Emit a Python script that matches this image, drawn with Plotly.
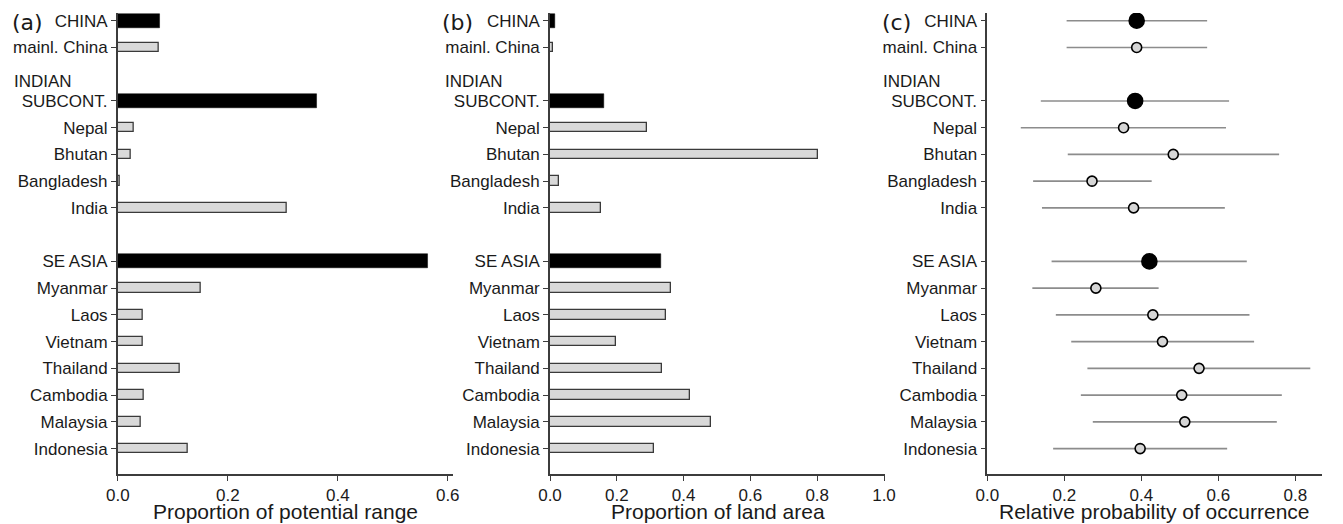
import plotly.graph_objects as go

# Regions, grouped; each group starts with its aggregate row
groups = [
    ("CHINA", ["mainl. China"]),
    ("SUBCONT.", ["Nepal", "Bhutan", "Bangladesh", "India"]),
    ("SE ASIA", ["Myanmar", "Laos", "Vietnam", "Thailand", "Cambodia", "Malaysia", "Indonesia"]),
]

# (a) proportion of potential range
range_prop = [0.077, 0.075, 0.362, 0.029, 0.023, 0.003, 0.307,
              0.563, 0.151, 0.046, 0.045, 0.112, 0.048, 0.042, 0.127]
# (b) proportion of land area
land_prop = [0.015, 0.008, 0.162, 0.291, 0.803, 0.026, 0.153,
             0.332, 0.362, 0.346, 0.197, 0.334, 0.418, 0.481, 0.312]
# (c) relative probability of occurrence with interval
occ_mean = [0.388, 0.388, 0.384, 0.354, 0.483, 0.272, 0.380,
            0.421, 0.282, 0.430, 0.455, 0.550, 0.505, 0.513, 0.397]
occ_low = [0.206, 0.206, 0.139, 0.087, 0.209, 0.119, 0.142,
           0.167, 0.117, 0.178, 0.218, 0.260, 0.243, 0.274, 0.171]
occ_high = [0.571, 0.571, 0.628, 0.620, 0.758, 0.427, 0.617,
            0.674, 0.445, 0.681, 0.693, 0.839, 0.765, 0.752, 0.623]

x_titles = ["Proportion of potential range", "Proportion of land area",
            "Relative probability of occurrence"]
panel_tags = ["(a)", "(b)", "(c)"]

# Row layout: one blank row between groups
labels, rows, agg = [], [], []
r = 0
for gi, (head, members) in enumerate(groups):
    if gi > 0:
        r += 1
    labels.append(head); rows.append(r); agg.append(True); r += 1
    for m in members:
        labels.append(m); rows.append(r); agg.append(False); r += 1

W, H = 1343, 524
FONT = "Liberation Sans, Arial, sans-serif"
INK = "#1a1a1a"
AX = "#3c3c3c"

# plot areas in pixels (left, right) and shared top/bottom
px_x = [(117.8, 452.7), (550.0, 885.0), (987.3, 1321.7)]
px_top, px_bot = 13.0, 474.0
xranges = [[0, 0.609], [0, 1.003], [0, 0.8686]]
yrange = [16.95, -0.288]

fig = go.Figure()

def pick(vals, flag):
    return [v for v, a in zip(vals, agg) if a == flag]

for k, vals in enumerate([range_prop, land_prop]):
    xa = "x" if k == 0 else f"x{k+1}"
    ya = "y" if k == 0 else f"y{k+1}"
    fig.add_trace(go.Bar(
        x=pick(vals, False), y=pick(rows, False), orientation="h",
        width=0.36, marker=dict(color="#d9d9d9", line=dict(color="#3a3a3a", width=1.3)),
        xaxis=xa, yaxis=ya, showlegend=False))
    fig.add_trace(go.Bar(
        x=pick(vals, True), y=pick(rows, True), orientation="h",
        width=0.52, marker=dict(color="#000000", line=dict(color="#000000", width=0.5)),
        xaxis=xa, yaxis=ya, showlegend=False))

for flag in (False, True):
    m = pick(occ_mean, flag)
    lo = pick(occ_low, flag)
    hi = pick(occ_high, flag)
    fig.add_trace(go.Scatter(
        x=m, y=pick(rows, flag), mode="markers",
        error_x=dict(type="data", symmetric=False,
                     array=[h - v for h, v in zip(hi, m)],
                     arrayminus=[v - l for v, l in zip(m, lo)],
                     color="#8c8c8c", thickness=1.6, width=0),
        marker=dict(size=15 if flag else 10,
                    color="#000000" if flag else "#d6d6d6",
                    line=dict(color="#000000", width=1.6)),
        xaxis="x3", yaxis="y3", showlegend=False))

layout = dict(
    width=W, height=H, margin=dict(l=0, r=0, t=0, b=0, autoexpand=False),
    paper_bgcolor="white", plot_bgcolor="white",
    font=dict(family=FONT, color=INK, size=17),
    bargap=0, barmode="overlay",
)
ydom = [(H - px_bot) / H, (H - px_top) / H]
annotations = []
for k in range(3):
    sx = "" if k == 0 else str(k + 1)
    l, rr = px_x[k]
    layout[f"xaxis{sx}"] = dict(
        domain=[l / W, rr / W], range=xranges[k], anchor=f"y{sx}",
        tickvals=[0, 0.2, 0.4, 0.6, 0.8, 1.0],
        tickformat=".1f", showgrid=False, zeroline=False, automargin=False,
        showline=True, linecolor=AX, linewidth=1.6,
        ticks="outside", ticklen=5, tickwidth=1.4, tickcolor=AX,
        tickfont=dict(size=17, family=FONT, color=INK),
    )
    layout[f"yaxis{sx}"] = dict(
        domain=ydom, range=yrange, anchor=f"x{sx}",
        tickvals=rows, ticktext=labels, automargin=False,
        showgrid=False, zeroline=False,
        showline=True, linecolor=AX, linewidth=1.6,
        ticks="outside", ticklen=5, tickwidth=1.4, tickcolor=AX,
        tickfont=dict(size=17, family=FONT, color=INK),
        ticklabelstandoff=0,
    )
    # axis title centred under the panel
    annotations.append(dict(text=x_titles[k], x=(l + rr) / 2 / W, y=1 - 511.5 / H,
                            xref="paper", yref="paper", xanchor="center", yanchor="middle",
                            showarrow=False, font=dict(size=21, family=FONT, color=INK)))

# panel tags and the upper line of the two-line label
tag_x = [10, 440, 880]
indian_x = [12, 443, 881]
for k in range(3):
    annotations.append(dict(text=panel_tags[k], x=tag_x[k] / W, y=1 - 23 / H,
                            xref="paper", yref="paper", xanchor="left", yanchor="middle",
                            showarrow=False, font=dict(size=22, family="DejaVu Sans", color=INK)))
    annotations.append(dict(text="INDIAN", x=indian_x[k] / W, y=1 - 82 / H,
                            xref="paper", yref="paper", xanchor="left", yanchor="middle",
                            showarrow=False, font=dict(size=17, family=FONT, color=INK)))
layout["annotations"] = annotations

fig.update_layout(**layout)
fig.write_html("out.html")
